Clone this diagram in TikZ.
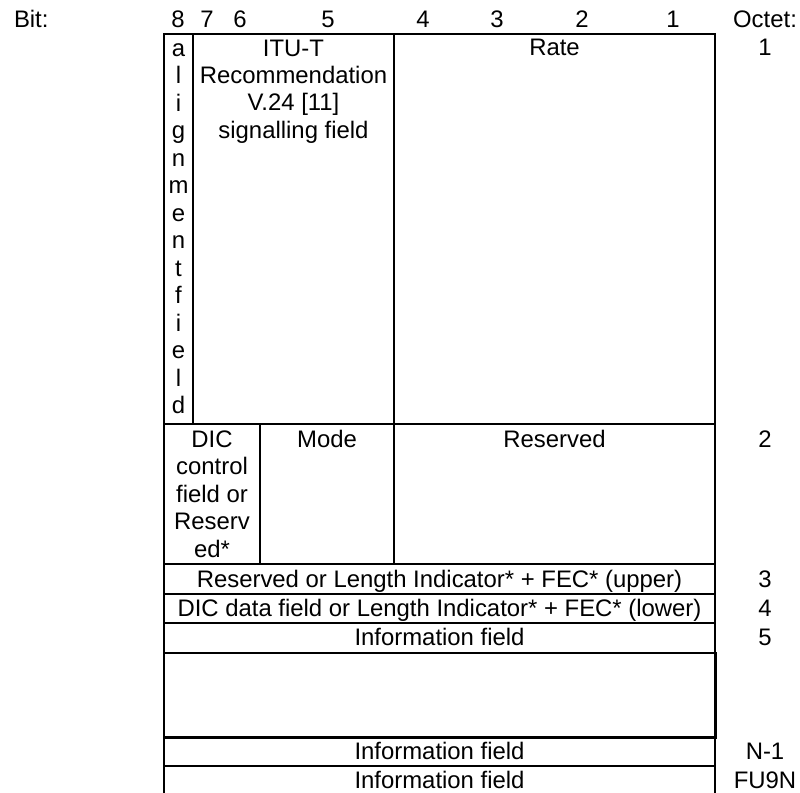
\documentclass[tikz,border=0pt]{standalone}
\usepackage{fontspec}
\setmainfont{Liberation Sans}
\usetikzlibrary{positioning}
\begin{document}
\begin{tikzpicture}[x=0.02cm,y=-0.02cm,line width=1.14pt,every node/.style={font=\fontsize{13.6}{15.65}\selectfont,inner sep=0pt,anchor=base}]
\tikzstyle{field}=[align=center]
\tikzstyle{gap}=[line width=1.7pt]
\useasboundingbox (0,0) rectangle (800,793);
\node[anchor=base west] (bit) at (13,28) {Bit:};
\foreach \b/\x in {8/178,7/207,6/240,5/328,4/423,3/497,2/582,1/673}
  \node (b\b) at (\x,28) {\b};
\node (octet) at (765,28) {Octet:};
\draw (164,793) -- (164,34) -- (715,34) -- (715,793);
\draw (193,34) -- (193,424);
\draw (394,34) -- (394,564);
\draw (164,424) -- (715,424);
\draw (260,424) -- (260,564);
\foreach \y in {564,594,623,766}
  \draw (164,\y) -- (715,\y);
\draw[gap] (164,653) rectangle (715,737);
\node[field] (align) at (178.5,413.5) {a\\l\\i\\g\\n\\m\\e\\n\\t\\f\\i\\e\\l\\d};
\node[field] (sig) at (293.5,138.5) {ITU-T\\Recommendation\\V.24 [11]\\signalling field};
\node (rate) at (554.5,56) {Rate};
\node[field] (dic) at (212,557) {DIC\\control\\field or\\Reserv\\ed*};
\node (mode) at (327,447) {Mode};
\node (res) at (554.5,447) {Reserved};
\node (len) at (439.5,587) {Reserved or Length Indicator* + FEC* (upper)};
\node (dicdata) at (439.5,616) {DIC data field or Length Indicator* + FEC* (lower)};
\node (info5) at (439.5,645) {Information field};
\node (infoNm) at (439.5,759) {Information field};
\node (infoN) at (439.5,788) {Information field};
\foreach \o/\y/\n in {1/56/1,2/447/2,3/587/3,4/616/4,5/645/5,N-1/759/Nm,FU9N/788/N}
  \node (oct\n) at (765,\y) {\o};
\end{tikzpicture}
\end{document}
